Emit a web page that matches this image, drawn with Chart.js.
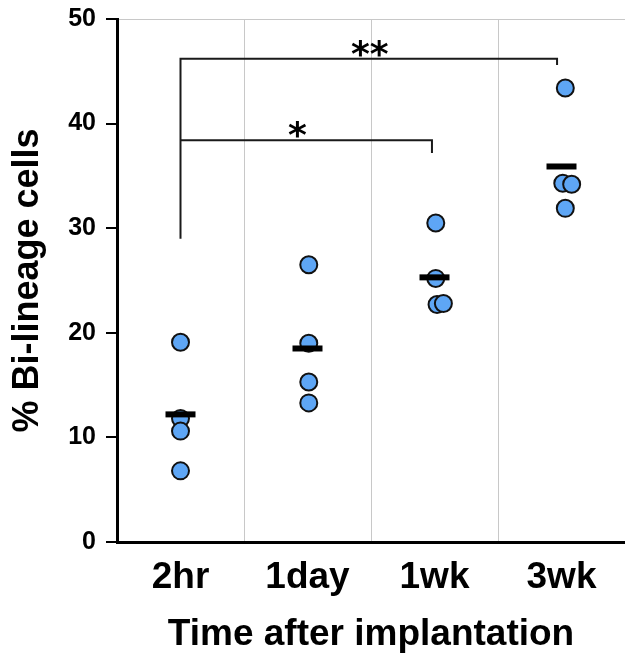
<!DOCTYPE html>
<html>
<head>
<meta charset="utf-8">
<script src="https://cdn.jsdelivr.net/npm/chart.js@4.4.1/dist/chart.umd.min.js"></script>
<style>
  html, body { margin: 0; padding: 0; background: #fff; }
</style>
</head>
<body>
<canvas id="dotChart" width="625" height="663"></canvas>
<script>
// Datos
const categories = ['2hr', '1day', '1wk', '3wk'];
const vals2hr = [19.1, 11.8, 10.6, 6.8];
const vals1day = [26.5, 19.0, 15.3, 13.3];
const vals1wk = [30.5, 25.2, 22.7, 22.8];
const vals3wk = [43.4, 34.3, 34.2, 31.9];
// pequeño desplazamiento horizontal de cada punto dentro de su grupo
const jit2hr = [0, 0, 0, 0];
const jit1day = [0.01, 0.01, 0.01, 0.01];
const jit1wk = [0.01, 0.01, 0.02, 0.07];
const jit3wk = [0.03, 0.01, 0.08, 0.03];
const means = [12.2, 18.5, 25.3, 35.9];

// brackets de significancia
const sigLabels = ['*', '**'];
const sigTopY = [38.4, 46.2];
const sigEndX = [1.98, 2.965];
const sigEndY = [37.2, 45.6];
const sigBaseY = 29.0;
const sigLabelX = [0.92, 1.49];

const groups = [vals2hr, vals1day, vals1wk, vals3wk];
const jitters = [jit2hr, jit1day, jit1wk, jit3wk];

const FONT = 'Liberation Sans';

const puntos = [];
groups.forEach((g, i) => {
  g.forEach((v, j) => puntos.push({ x: i + jitters[i][j], y: v }));
});
const medias = means.map((m, i) => ({ x: i, y: m }));

const bracketLargo = [
  { x: 0, y: sigBaseY }, { x: 0, y: sigTopY[1] },
  { x: sigEndX[1], y: sigTopY[1] }, { x: sigEndX[1], y: sigEndY[1] }
];
const bracketCorto = [
  { x: 0, y: sigTopY[0] },
  { x: sigEndX[0], y: sigTopY[0] }, { x: sigEndX[0], y: sigEndY[0] }
];

const lineaBracket = {
  type: 'scatter', showLine: true, tension: 0,
  borderColor: '#1a1a1a', borderWidth: 2, pointRadius: 0, fill: false
};

// asteriscos encima de cada bracket
const estrellasPlugin = {
  id: 'estrellas',
  afterDatasetsDraw(chart) {
    const { ctx, scales } = chart;
    ctx.save();
    ctx.fillStyle = '#000';
    ctx.font = 'bold 36px "DejaVu Sans"';
    ctx.textAlign = 'center';
    ctx.textBaseline = 'alphabetic';
    sigLabels.forEach((t, i) => {
      const px = scales.x.getPixelForValue(sigLabelX[i]);
      const py = scales.y.getPixelForValue(sigTopY[i]) + 7;
      ctx.fillText(t, px, py);
    });
    ctx.restore();
  }
};

const ctx = document.getElementById('dotChart').getContext('2d');
const chart = new Chart(ctx, {
  type: 'scatter',
  data: {
    datasets: [
      {
        label: 'media', data: medias, order: 0,
        pointStyle: 'line', pointRadius: 15, pointBorderWidth: 6,
        borderColor: '#000', backgroundColor: '#000'
      },
      {
        label: '% Bi-lineage', data: puntos, order: 1,
        pointRadius: 8.5, pointBorderWidth: 2,
        backgroundColor: '#5ea6f5', borderColor: '#111'
      },
      Object.assign({ label: 'sig2', data: bracketLargo, order: 2 }, lineaBracket),
      Object.assign({ label: 'sig1', data: bracketCorto, order: 2 }, lineaBracket)
    ]
  },
  options: {
    responsive: false,
    animation: false,
    devicePixelRatio: 1,
    layout: { autoPadding: false, padding: { top: 19, right: 0, bottom: 0, left: 0 } },
    plugins: { legend: { display: false }, tooltip: { enabled: false } },
    scales: {
      x: {
        type: 'linear', position: 'bottom', min: -0.5, max: 3.5,
        afterBuildTicks: s => { s.ticks = categories.map((c, i) => ({ value: i })); },
        afterFit: s => { s.height = 121; },
        grid: { display: false },
        border: { display: true, color: '#000', width: 3 },
        ticks: {
          color: '#000', padding: 6, maxRotation: 0,
          font: { family: FONT, weight: 'bold', size: 37 },
          callback: v => categories[v]
        },
        title: {
          display: true, text: 'Time after implantation', color: '#000',
          font: { family: FONT, weight: 'bold', size: 37 },
          padding: { top: 0, bottom: 6 }
        }
      },
      xGrid: {
        type: 'linear', position: 'top', min: -0.5, max: 3.5,
        afterBuildTicks: s => { s.ticks = categories.slice(1).map((c, i) => ({ value: i + 0.5 })); },
        afterFit: s => { s.height = 0; },
        ticks: { display: false },
        grid: { color: '#c8c8c8', lineWidth: 1, drawTicks: false },
        border: { display: true, color: '#c8c8c8', width: 1 }
      },
      y: {
        min: 0, max: 50,
        afterFit: s => { s.width = 117; s.paddingTop = 0; s.paddingBottom = 0; },
        ticks: {
          stepSize: 10, color: '#000', padding: 10,
          font: { family: FONT, weight: 'bold', size: 25 }
        },
        grid: { drawOnChartArea: false, drawTicks: true, tickLength: 11, color: '#000', lineWidth: 2 },
        border: { display: true, color: '#000', width: 3 },
        title: {
          display: true, text: '% Bi-lineage cells', color: '#000',
          font: { family: FONT, weight: 'bold', size: 36 },
          padding: { top: 6, bottom: 0 }
        }
      }
    }
  },
  plugins: [estrellasPlugin]
});
</script>
</body>
</html>
